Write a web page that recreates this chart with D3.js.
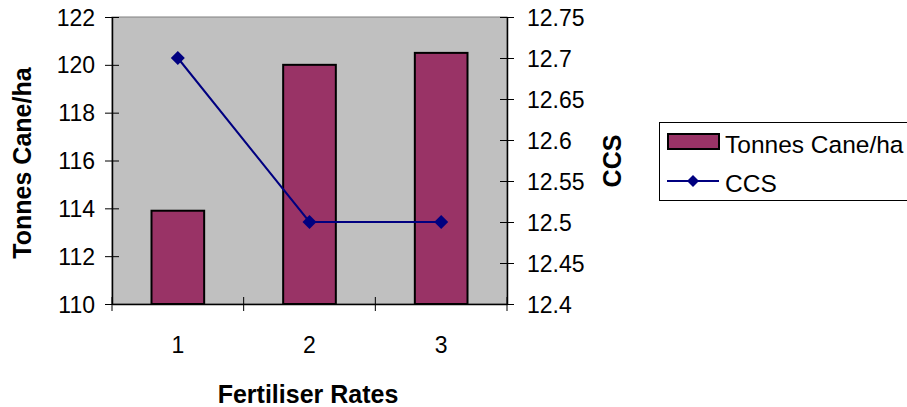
<!DOCTYPE html>
<html>
<head>
<meta charset="utf-8">
<script src="https://cdn.jsdelivr.net/npm/d3@7"></script>
<style>
  html, body { margin: 0; padding: 0; background: #fff; }
  svg { display: block; }
  text { font-family: "Liberation Sans", Arial, sans-serif; fill: #000; }
</style>
</head>
<body>
<svg id="chart" width="907" height="407"></svg>
<script>
// Fertiliser trial: cane yield (bars, left axis) and CCS (line, right axis)
const categories = ["1", "2", "3"];
const tonnesCane = [113.9, 120, 120.5];
const ccs = [12.7, 12.5, 12.5];
const leftTicks = [110, 112, 114, 116, 118, 120, 122];
const rightTicks = [12.4, 12.45, 12.5, 12.55, 12.6, 12.65, 12.7, 12.75];
const rightTickLabels = ["12.4", "12.45", "12.5", "12.55", "12.6", "12.65", "12.7", "12.75"];

const svg = d3.select("#chart");
const plot = { left: 112, right: 507, top: 17, bottom: 304 };

const x = d3.scaleBand()
  .domain(categories)
  .range([plot.left, plot.right])
  .paddingInner(0.6)
  .paddingOuter(0.3);

const yLeft = d3.scaleLinear().domain([110, 122]).range([plot.bottom, plot.top]);
const yRight = d3.scaleLinear().domain([12.4, 12.75]).range([plot.bottom, plot.top]);

const fontSize = "23px";
const titleSize = "25px";
const legendSize = "24.5px";

// plot background
svg.append("rect")
  .attr("x", plot.left).attr("y", plot.top)
  .attr("width", plot.right - plot.left).attr("height", plot.bottom - plot.top)
  .attr("fill", "#C0C0C0").attr("stroke", "#808080").attr("stroke-width", 1);

// bars
svg.append("g").selectAll("rect")
  .data(categories)
  .join("rect")
  .attr("x", d => x(d))
  .attr("y", (d, i) => yLeft(tonnesCane[i]))
  .attr("width", x.bandwidth())
  .attr("height", (d, i) => yLeft(110) - yLeft(tonnesCane[i]))
  .attr("fill", "#993366")
  .attr("stroke", "#000")
  .attr("stroke-width", 2);

// axes with ticks crossing the axis line
const tickHalf = 7;

function styleLabels(g) {
  g.selectAll("text")
    .style("font-size", fontSize)
    .attr("dy", "0.35em");
}

// left axis
const gL = svg.append("g").attr("transform", `translate(${plot.left},0)`)
  .call(d3.axisLeft(yLeft).tickValues(leftTicks).tickSize(0).tickPadding(17).tickFormat(d3.format("d")));
gL.select(".domain").attr("stroke", "#000").attr("stroke-width", 1.5);
gL.selectAll(".tick").append("line").attr("x1", -tickHalf).attr("x2", tickHalf).attr("stroke", "#000");
styleLabels(gL);

// right axis
const gR = svg.append("g").attr("transform", `translate(${plot.right},0)`)
  .call(d3.axisRight(yRight).tickValues(rightTicks).tickSize(0).tickPadding(20)
    .tickFormat((d, i) => rightTickLabels[i]));
gR.select(".domain").attr("stroke", "#000").attr("stroke-width", 1.5);
gR.selectAll(".tick").append("line").attr("x1", -tickHalf).attr("x2", tickHalf).attr("stroke", "#000");
styleLabels(gR);

// bottom axis: labels centred in bands, ticks at band boundaries
const gB = svg.append("g").attr("transform", `translate(0,${plot.bottom})`)
  .call(d3.axisBottom(x).tickSize(0).tickPadding(41));
gB.select(".domain").attr("stroke", "#000").attr("stroke-width", 1.5);
styleLabels(gB);
const step = x.step();
const boundaries = d3.range(categories.length + 1).map(i => plot.left + i * step);
gB.selectAll(".bound").data(boundaries).join("line")
  .attr("x1", d => d).attr("x2", d => d)
  .attr("y1", -tickHalf).attr("y2", tickHalf)
  .attr("stroke", "#000");

// CCS line
const diamond = "M0,-7L7,0L0,7L-7,0Z";
const line = d3.line()
  .x((d, i) => x(categories[i]) + x.bandwidth() / 2)
  .y(d => yRight(d));
svg.append("path").datum(ccs)
  .attr("d", line)
  .attr("fill", "none").attr("stroke", "#000080").attr("stroke-width", 2);
svg.append("g").selectAll("path")
  .data(ccs)
  .join("path")
  .attr("transform", (d, i) => `translate(${x(categories[i]) + x.bandwidth() / 2},${yRight(d)})`)
  .attr("d", diamond)
  .attr("fill", "#000080");

// axis titles
function title(sel) {
  return sel.attr("text-anchor", "middle").attr("dy", "0.35em")
    .style("font-size", titleSize).style("font-weight", "bold");
}
svg.append("text")
  .attr("x", 308).attr("y", 394)
  .call(title)
  .text("Fertiliser Rates");

svg.append("text")
  .attr("transform", `translate(22,163) rotate(-90)`)
  .call(title)
  .text("Tonnes Cane/ha");

svg.append("text")
  .attr("transform", `translate(612,161) rotate(-90)`)
  .call(title)
  .text("CCS");

// legend
const lg = svg.append("g").attr("transform", "translate(659,122)");
lg.append("rect").attr("x", 0.5).attr("y", 0.5).attr("width", 260).attr("height", 78)
  .attr("fill", "#fff").attr("stroke", "#000").attr("stroke-width", 1);
lg.append("rect").attr("x", 9).attr("y", 12).attr("width", 51).attr("height", 15)
  .attr("fill", "#993366").attr("stroke", "#000").attr("stroke-width", 2);
lg.append("text").attr("x", 66).attr("y", 22).attr("dy", "0.35em")
  .style("font-size", legendSize).text("Tonnes Cane/ha");
lg.append("line").attr("x1", 8).attr("x2", 60).attr("y1", 59).attr("y2", 59)
  .attr("stroke", "#000080").attr("stroke-width", 2);
lg.append("path").attr("transform", "translate(34,59)").attr("d", "M0,-6L6,0L0,6L-6,0Z").attr("fill", "#000080");
lg.append("text").attr("x", 66).attr("y", 61).attr("dy", "0.35em")
  .style("font-size", legendSize).text("CCS");
</script>
</body>
</html>
